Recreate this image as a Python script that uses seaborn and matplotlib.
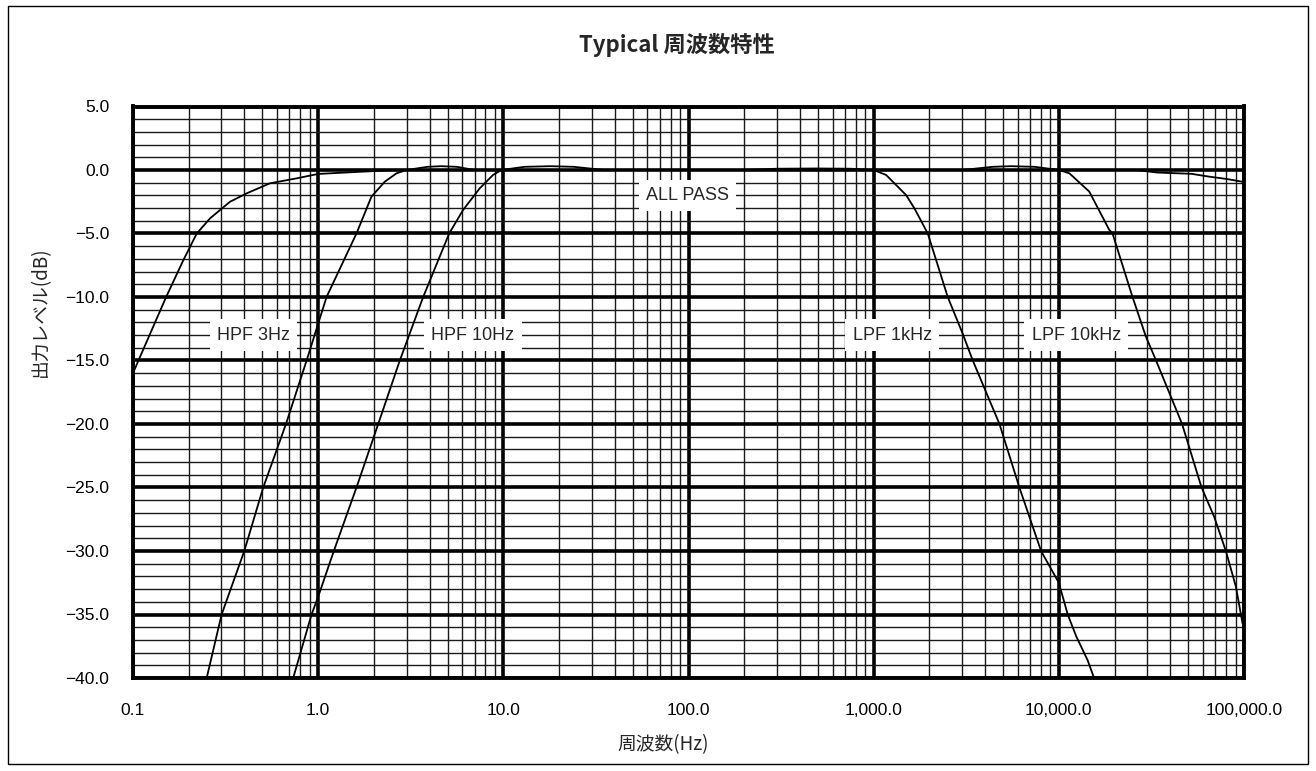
import numpy as np
import pandas as pd
import matplotlib
matplotlib.use("Agg")
import matplotlib.pyplot as plt
import matplotlib.ticker as mticker
from matplotlib.patches import Rectangle
import seaborn as sns

# ---- data ----
allpass_f = [0.1, 0.107, 0.151, 0.187, 0.221, 0.261, 0.334, 0.411, 0.548, 0.763, 1.0, 1.74, 2.65,
             10, 100, 1000, 10000, 26100, 34000, 52000, 64600, 80000, 97700, 100000]
allpass_db = [-16.0, -15.0, -10.0, -7.1, -5.0, -3.8, -2.5, -1.84, -1.05, -0.66, -0.31, -0.13, 0.0,
              0.0, 0.0, 0.0, 0.0, 0.0, -0.2, -0.3, -0.52, -0.7, -0.92, -1.0]

hpf3_f = [0.25, 0.301, 0.399, 0.505, 0.670, 0.866, 1.0, 1.11, 1.61, 1.94, 2.29, 2.65, 3.0,
          3.9, 4.6, 5.6, 7.0, 100]
hpf3_db = [-40, -35, -30, -25, -20, -15, -12.1, -10, -5, -2.1, -0.92, -0.26, 0.0,
           0.25, 0.3, 0.25, 0.0, 0.0]

hpf10_f = [0.733, 0.921, 1.0, 1.215, 1.61, 2.11, 2.76, 3.69, 5.1, 6.06, 7.46, 8.8, 9.77,
           13, 18, 24, 35, 1000]
hpf10_db = [-40, -35, -33.6, -30, -25, -20, -15, -10, -5, -3.15, -1.44, -0.39, 0.0,
            0.25, 0.3, 0.25, 0.0, 0.0]

lpf1k_f = [10, 200, 300, 500, 750, 1000, 1167, 1496, 1660, 1960, 2512, 3027, 3430, 4780,
           6124, 8017, 10000, 11170, 12400, 14300, 15500]
lpf1k_db = [0, 0, 0.1, 0.12, 0.1, 0.0, -0.39, -1.97, -3.02, -5, -10, -12.9, -15, -20,
            -25, -30, -32.5, -35, -36.7, -38.6, -40]

lpf10k_f = [100, 3000, 4400, 5500, 7400, 10000, 11400, 14600, 18700, 19500, 25000, 29500,
            33500, 46300, 59000, 69000, 79800, 90400, 98200, 100000]
lpf10k_db = [0, 0, 0.25, 0.3, 0.25, 0, -0.26, -1.7, -4.7, -5, -10, -13.1,
             -15, -20, -25, -27.3, -30, -32.8, -35.7, -36]

series_names = ["ALL PASS", "HPF 3Hz", "HPF 10Hz", "LPF 1kHz", "LPF 10kHz"]
label_f = [99, 0.446, 6.84, 1260, 12400]
label_db = [-2.0, -13.0, -13.0, -13.0, -13.0]

x_ticks = [0.1, 1, 10, 100, 1000, 10000, 100000]
x_ticklabels = ["0.1", "1.0", "10.0", "100.0", "1,000.0", "10,000.0", "100,000.0"]
y_ticks = [5, 0, -5, -10, -15, -20, -25, -30, -35, -40]

title = "Typical 周波数特性"
xlabel = "周波数(Hz)"
ylabel = "出力レベル(dB)"

# ---- build long frame ----
frames = []
for name, f, d in zip(series_names,
                      [allpass_f, hpf3_f, hpf10_f, lpf1k_f, lpf10k_f],
                      [allpass_db, hpf3_db, hpf10_db, lpf1k_db, lpf10k_db]):
    frames.append(pd.DataFrame({"freq": f, "db": d, "series": name}))
df = pd.concat(frames, ignore_index=True)

sns.set_theme(style="white")
FONT = ["Noto Sans CJK JP", "DejaVu Sans"]
LATIN = ["Liberation Sans", "DejaVu Sans"]
plt.rcParams["font.family"] = FONT
plt.rcParams["axes.unicode_minus"] = True

fig = plt.figure(figsize=(13.16, 7.71), dpi=100)
ax = fig.add_axes([133 / 1316, 1 - 678 / 771, (1244 - 133) / 1316, (678 - 106.5) / 771])

sns.lineplot(data=df, x="freq", y="db", hue="series", units="series", estimator=None,
             sort=False, palette=["black"] * 5, legend=False, linewidth=1.3, ax=ax, zorder=5)

ax.set_xscale("log")
ax.set_xlim(0.1, 100000)
ax.set_ylim(-40, 5)

ax.xaxis.set_minor_locator(mticker.LogLocator(base=10, subs=np.arange(2, 10), numticks=20))
ax.xaxis.set_minor_formatter(mticker.NullFormatter())
ax.set_xticks(x_ticks)
ax.set_xticklabels(x_ticklabels)
ax.yaxis.set_minor_locator(mticker.MultipleLocator(1))
ax.set_yticks(y_ticks)
ax.set_yticklabels([f"{v:.1f}".replace("-", "\u2212") for v in y_ticks])
for lab in ax.get_xticklabels() + ax.get_yticklabels():
    lab.set_fontfamily(LATIN)
    lab.set_fontsize(12.5)

ax.grid(which="major", color="black", linewidth=2.6)
ax.grid(which="minor", color="#1a1a1a", linewidth=1.0)
ax.set_axisbelow(True)

for s in ax.spines.values():
    s.set_visible(True)
    s.set_color("black")
    s.set_linewidth(2.8)

ax.tick_params(axis="both", which="major", length=0, colors="black")
ax.tick_params(axis="x", which="major", pad=18)
ax.tick_params(axis="y", which="major", pad=17)
ax.tick_params(which="minor", length=0)

ax.set_xlabel("")
ax.set_ylabel("")
fig.text(663 / 1316, 1 - 745 / 771, xlabel, ha="center", va="center", fontsize=13.5)
fig.text(40 / 1316, 1 - 312 / 771, ylabel, ha="center", va="center", fontsize=13.5,
         rotation=90)
fig.text(677 / 1316, 1 - 45 / 771, title, ha="center", va="center", fontsize=16,
         fontweight="bold")

for name, fx, dy in zip(series_names, label_f, label_db):
    ax.text(fx, dy, name, ha="center", va="center", fontsize=13, family=LATIN, zorder=10,
            bbox=dict(facecolor="white", edgecolor="none", boxstyle="square,pad=0.4"))

fig.patches.append(Rectangle((8 / 1316, 7 / 771), (1308 - 8) / 1316, (764 - 6) / 771,
                             transform=fig.transFigure, fill=False, edgecolor="black",
                             linewidth=1.0))

fig.savefig("out.png", dpi=100, facecolor="white")
